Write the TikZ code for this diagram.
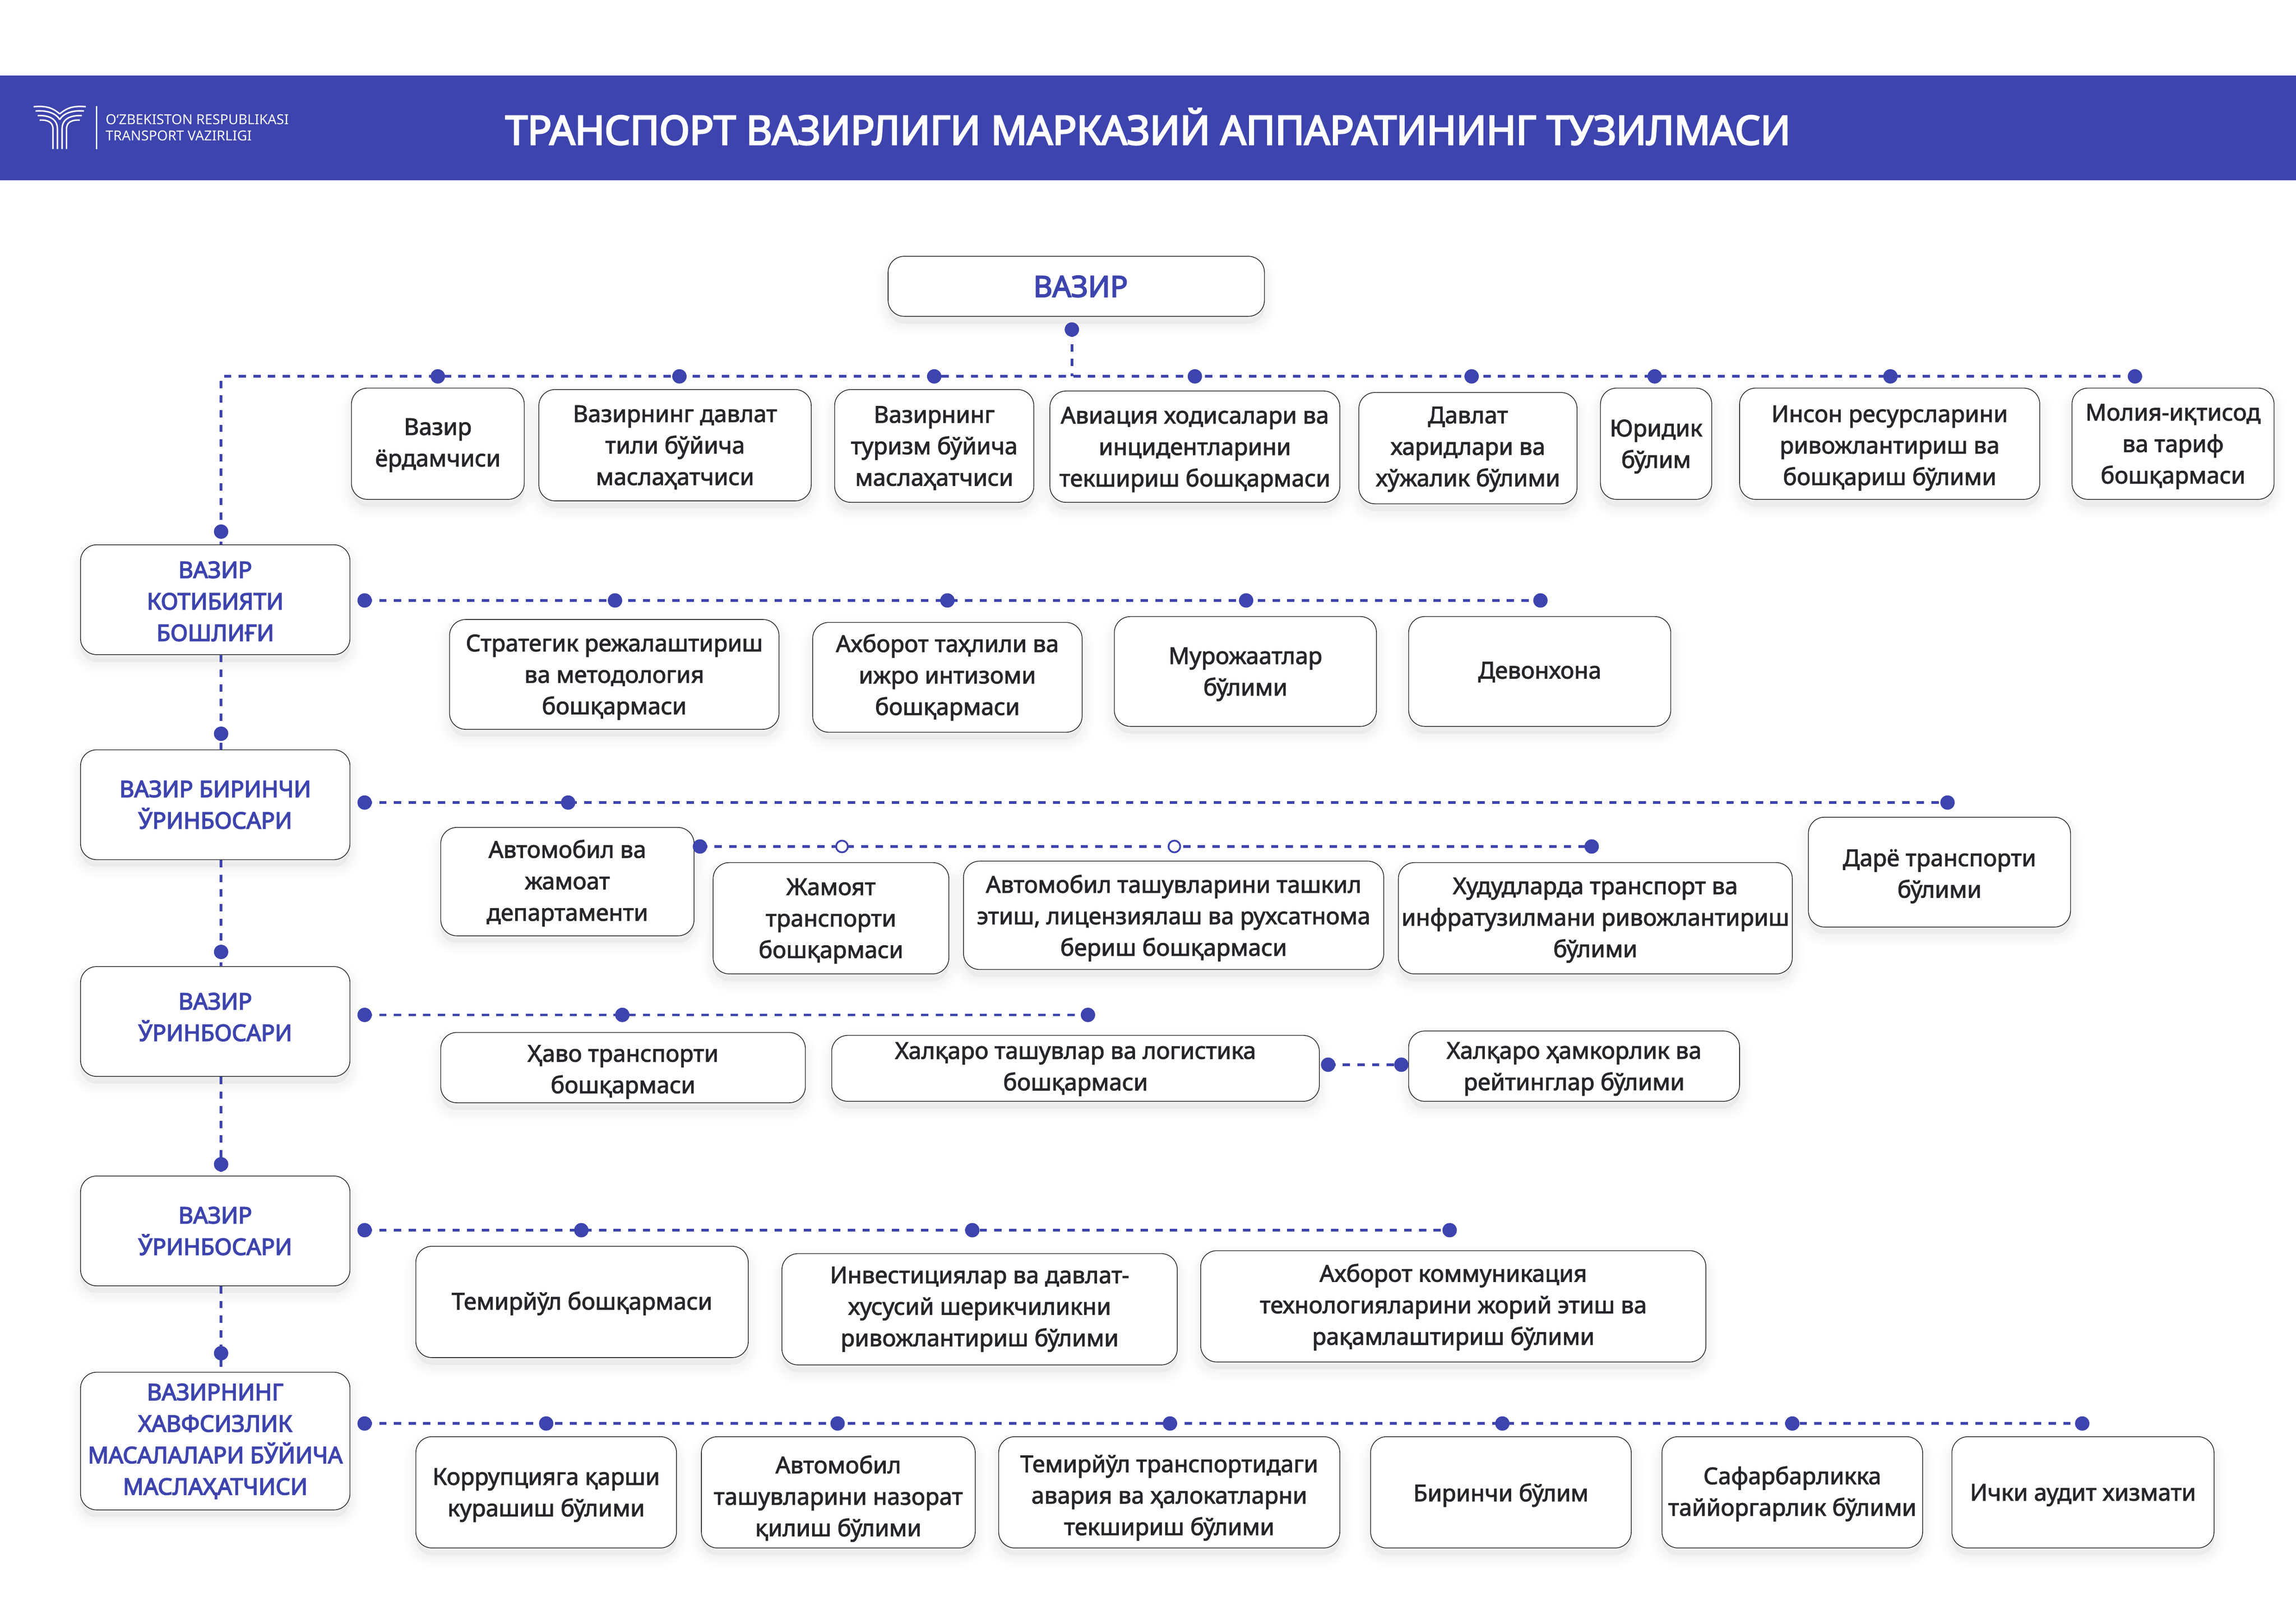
\documentclass[tikz,border=0pt]{standalone}
\usepackage{fontspec}
\setmainfont{Noto Sans}[FakeBold=2.2]
\newfontfamily\thinfont{Noto Sans}
\newfontfamily\rahbarfont{Noto Sans}[FakeBold=3.5]
\newfontfamily\headfont{Noto Sans}[FakeBold=3.5,LetterSpace=-0.75]
\usetikzlibrary{shadows}
\definecolor{vzblue}{HTML}{3D44AD}
\definecolor{vzink}{HTML}{26262B}

\begin{document}
\begin{tikzpicture}[x=1pt,y=-1pt,
    softshadow/.style={general shadow={shadow xshift=0pt,shadow yshift=-5pt,fill=black,draw=black,line width=2*#1,opacity=0.007}},
    amal/.style={draw=vzink,line width=0.5pt,fill=white,rounded corners=11pt,inner sep=0pt,align=center,text=vzink,
        font=\fontsize{15.85}{21.5}\selectfont,text depth=#1pt,
        softshadow=2pt,softshadow=3.5pt,softshadow=5pt,softshadow=6.5pt,softshadow=8pt},
    amal/.default=1.8,
    rahbar/.style={amal=#1,text=vzblue,minimum width=184pt,font=\rahbarfont\fontsize{15.6}{21.5}\selectfont},
    rahbar/.default=0,
    link/.style={vzblue,line width=1.8pt,dash pattern=on 5pt off 5pt},
    dot/.style={circle,fill=vzblue,inner sep=0pt,minimum size=9.8pt},
    odot/.style={circle,draw=vzblue,line width=1.2pt,fill=white,inner sep=0pt,minimum size=8pt}]
    \useasboundingbox (0,0) rectangle (1568,1108.9);

    % Sarlavha
    \fill[vzblue] (0,51.5) rectangle (1568,123);
    \node[text=white,font=\headfont\fontsize{27.5}{30}\selectfont] (titul) at (784,86.5) {ТРАНСПОРТ ВАЗИРЛИГИ МАРКАЗИЙ АППАРАТИНИНГ ТУЗИЛМАСИ};
    \foreach \s in {1,-1} {
        \begin{scope}[shift={(40.8,68)},x=0.1054pt,y=-0.1054pt,xscale=\s,white,line width=1pt]
            \draw (-169,46) .. controls (-90,40) and (-50,50) .. (0,93);
            \draw (-157,74) .. controls (-90,68) and (-25,85) .. (0,130);
            \draw (-143,104) .. controls (-70,100) and (-15,125) .. (-15,190) -- (-15,320);
            \draw (-130,133) .. controls (-80,130) and (-44,145) .. (-44,190) -- (-44,320);
        \end{scope}
    }
    \draw[white,line width=0.8pt] (66,72.4) -- (66,101.8);
    \node[anchor=west,inner sep=0pt,text=white,font=\thinfont\fontsize{9.4}{11}\selectfont] (uz1) at (72,81.6) {O‘ZBEKISTON RESPUBLIKASI};
    \node[anchor=west,inner sep=0pt,text=white,font=\thinfont\fontsize{9.4}{11}\selectfont] (uz2) at (72,92.8) {TRANSPORT VAZIRLIGI};

    % Vazir
    \node[amal=0,text=vzblue,minimum width=257pt,minimum height=41pt,font=\rahbarfont\fontsize{20}{24}\selectfont] (vazir) at (735,195.5) {\hspace{6pt}ВАЗИР};
    \node[amal,minimum width=118pt,minimum height=76pt] (erd) at (299,303) {Вазир\\ёрдамчиси};
    \node[amal=0,minimum width=186pt,minimum height=76pt] (dav) at (461,304) {Вазирнинг давлат\\тили бўйича\\маслаҳатчиси};
    \node[amal=0,minimum width=136pt,minimum height=77pt] (tur) at (638,304.5) {Вазирнинг\\туризм бўйича\\маслаҳатчиси};
    \node[amal=0,minimum width=198pt,minimum height=76pt] (avi) at (816,305) {Авиация ходисалари ва\\инцидентларини\\текшириш бошқармаси};
    \node[amal=2.2,minimum width=149pt,minimum height=76pt] (xar) at (1002.5,306) {Давлат\\харидлари ва\\хўжалик бўлими};
    \node[amal=0,minimum width=76pt,minimum height=76pt] (yur) at (1131,303) {Юридик\\бўлим};
    \node[amal=0,text height=56.4pt,minimum width=205pt,minimum height=76pt] (ins) at (1290.5,303) {Инсон ресурсларини\\ривожлантириш ва\\бошқариш бўлими};
    \node[amal=0,minimum width=138pt,minimum height=76pt] (mol) at (1484,303) {Молия-иқтисод\\ва тариф\\бошқармаси};

    % Kotibiyat
    \node[rahbar,text height=56.4pt,minimum height=75pt] (kot) at (147,409.5) {ВАЗИР\\КОТИБИЯТИ\\БОШЛИҒИ};
    \node[amal=0,minimum width=225pt,minimum height=75pt] (str) at (419.5,460.5) {Стратегик режалаштириш\\ва методология\\бошқармаси};
    \node[amal=3.8,minimum width=184pt,minimum height=75pt] (axb) at (647,462.5) {Ахборот таҳлили ва\\ижро интизоми\\бошқармаси};
    \node[amal=0,minimum width=179pt,minimum height=75pt] (mur) at (850.5,458.5) {Мурожаатлар\\бўлими};
    \node[amal=1.6,minimum width=179pt,minimum height=75pt] (dev) at (1051.5,458.5) {Девонхона};

    % Birinchi o'rinbosar
    \node[rahbar=0.2,minimum height=75pt] (bir) at (147,549.5) {ВАЗИР БИРИНЧИ\\ЎРИНБОСАРИ};
    \node[amal,minimum width=173pt,minimum height=74pt] (avt) at (387.5,602) {Автомобил ва\\жамоат\\департаменти};
    \node[amal=0,minimum width=161pt,minimum height=76pt] (jam) at (567.5,627) {Жамоят\\транспорти\\бошқармаси};
    \node[amal=0,minimum width=287pt,minimum height=74pt] (tas) at (801.5,625) {Автомобил ташувларини ташкил\\этиш, лицензиялаш ва рухсатнома\\бериш бошқармаси};
    \node[amal=1.2,minimum width=269pt,minimum height=76pt] (hud) at (1089.5,627) {Худудларда транспорт ва\\инфратузилмани ривожлантириш\\бўлими};
    \node[amal=0,text height=34.9pt,minimum width=179pt,minimum height=75pt] (dar) at (1324.5,595.5) {Дарё транспорти\\бўлими};

    % O'rinbosar
    \node[rahbar=6.2,minimum height=75pt] (urb) at (147,697.5) {ВАЗИР\\ЎРИНБОСАРИ};
    \node[amal=0,text height=34.9pt,minimum width=249pt,minimum height=48pt] (hav) at (425.5,729) {Ҳаво транспорти\\бошқармаси};
    \node[amal=2.8,minimum width=333pt,minimum height=45pt] (xal) at (734.5,729.5) {Халқаро ташувлар ва логистика\\бошқармаси};
    \node[amal=0,minimum width=226pt,minimum height=48pt] (ham) at (1075,728) {Халқаро ҳамкорлик ва\\рейтинглар бўлими};

    % O'rinbosar
    \node[rahbar,minimum height=75pt] (urc) at (147,840.5) {ВАЗИР\\ЎРИНБОСАРИ};
    \node[amal,minimum width=227pt,minimum height=76pt] (tem) at (397.5,889) {Темирйўл бошқармаси};
    \node[amal=3.8,minimum width=270pt,minimum height=76pt] (inv) at (669,894) {Инвестициялар ва давлат-\\хусусий шерикчиликни\\ривожлантириш бўлими};
    \node[amal=2.8,minimum width=345pt,minimum height=76pt] (akt) at (992.5,892) {Ахборот коммуникация\\технологияларини жорий этиш ва\\рақамлаштириш бўлими};

    % Maslahatchi
    \node[rahbar=2.6,minimum height=94pt] (xvf) at (147,984) {ВАЗИРНИНГ\\ХАВФСИЗЛИК\\МАСАЛАЛАРИ БЎЙИЧА\\МАСЛАҲАТЧИСИ};
    \node[amal=0,minimum width=178pt,minimum height=76pt] (kor) at (373,1019) {Коррупцияга қарши\\курашиш бўлими};
    \node[amal=0,text height=60pt,minimum width=187pt,minimum height=76pt] (naz) at (572.5,1019) {Автомобил\\ташувларини назорат\\қилиш бўлими};
    \node[amal=0,text height=58.4pt,minimum width=233pt,minimum height=76pt] (ttr) at (798.5,1019) {Темирйўл транспортидаги\\авария ва ҳалокатларни\\текшириш бўлими};
    \node[amal=0,minimum width=178pt,minimum height=76pt] (brn) at (1025,1019) {Биринчи бўлим};
    \node[amal,minimum width=178pt,minimum height=76pt] (saf) at (1224,1019) {Сафарбарликка\\таййоргарлик бўлими};
    \node[amal=0,minimum width=179pt,minimum height=76pt] (ich) at (1422.5,1019) {Ички аудит хизмати};

    % Nuqtalar
    \node[dot] (v0) at (732,225) {};
    \coordinate (v1) at (732,257);
    \coordinate (c0) at (151,257);
    \node[dot] (a1) at (299,257) {};
    \node[dot] (a2) at (464,257) {};
    \node[dot] (a3) at (638,257) {};
    \node[dot] (a4) at (816,257) {};
    \node[dot] (a5) at (1005,257) {};
    \node[dot] (a6) at (1130,257) {};
    \node[dot] (a7) at (1291,257) {};
    \node[dot] (a8) at (1458,257) {};
    \node[dot] (k0) at (151,363) {};

    \node[dot] (b0) at (249,410) {};
    \node[dot] (b1) at (420,410) {};
    \node[dot] (b2) at (647,410) {};
    \node[dot] (b3) at (851,410) {};
    \node[dot] (b4) at (1052,410) {};
    \node[dot] (k1) at (151,501) {};

    \node[dot] (d0) at (249,548) {};
    \node[dot] (d1) at (388,548) {};
    \node[dot] (d2) at (1330,548) {};
    \node[dot] (e0) at (478,578) {};
    \node[dot] (e3) at (1087,578) {};
    \node[dot] (k2) at (151,650) {};

    \node[dot] (f0) at (249,693) {};
    \node[dot] (f1) at (425,693) {};
    \node[dot] (f2) at (743,693) {};
    \node[dot] (g0) at (907,727) {};
    \node[dot] (g1) at (957,727) {};
    \node[dot] (k3) at (151,795) {};

    \node[dot] (h0) at (249,840) {};
    \node[dot] (h1) at (397,840) {};
    \node[dot] (h2) at (664,840) {};
    \node[dot] (h3) at (990,840) {};
    \node[dot] (k4) at (151,924) {};

    \node[dot] (i0) at (249,972) {};
    \node[dot] (i1) at (373,972) {};
    \node[dot] (i2) at (572,972) {};
    \node[dot] (i3) at (799,972) {};
    \node[dot] (i4) at (1026,972) {};
    \node[dot] (i5) at (1224,972) {};
    \node[dot] (i6) at (1422,972) {};

    % Chiziqlar
    \draw[link] (v0.center) -- (v1);
    \draw[link] (a8.center) -- (c0) -- (kot.north -| c0);
    \draw[link] (kot.south -| k1) -- (bir.north -| k1);
    \draw[link] (bir.south -| k2) -- (urb.north -| k2);
    \draw[link] (urb.south -| k3) -- (urc.north -| k3);
    \draw[link] (urc.south -| k4) -- (xvf.north -| k4);
    \draw[link] (b0.center) -- (b4.center);
    \draw[link] (d0.center) -- (d2.center);
    \draw[link] (e0.center) -- (e3.center);
    \draw[link] (f0.center) -- (f2.center);
    \draw[link] (g0.center) -- (g1.center);
    \draw[link] (h0.center) -- (h3.center);
    \draw[link] (i0.center) -- (i6.center);

    % Ochiq nuqtalar
    \node[odot] (e1) at (575,578) {};
    \node[odot] (e2) at (802,578) {};
\end{tikzpicture}
\end{document}
